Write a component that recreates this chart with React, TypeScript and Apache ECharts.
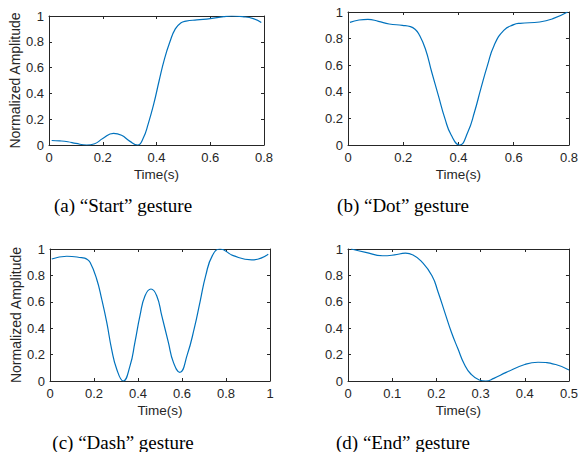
import React, { useEffect, useRef } from "react";
import * as echarts from "echarts";

const startT = [0.01, 0.04, 0.07, 0.1, 0.14, 0.17, 0.2, 0.24, 0.27, 0.3, 0.33, 0.35, 0.37, 0.39, 0.41, 0.43, 0.45, 0.47, 0.49, 0.51, 0.55, 0.6, 0.65, 0.68, 0.72, 0.76, 0.79];
const startV = [0.035, 0.032, 0.025, 0.012, 0.0, 0.01, 0.05, 0.09, 0.075, 0.03, 0.0, 0.05, 0.17, 0.32, 0.5, 0.67, 0.8, 0.9, 0.945, 0.96, 0.97, 0.98, 0.995, 1.0, 0.995, 0.98, 0.95];

const dotT = [0.007, 0.04, 0.072, 0.11, 0.149, 0.197, 0.226, 0.243, 0.256, 0.28, 0.303, 0.327, 0.351, 0.374, 0.404, 0.434, 0.458, 0.481, 0.505, 0.529, 0.564, 0.6, 0.623, 0.694, 0.742, 0.795];
const dotV = [0.922, 0.94, 0.945, 0.93, 0.91, 0.9, 0.89, 0.87, 0.837, 0.724, 0.549, 0.373, 0.198, 0.073, 0.0, 0.098, 0.248, 0.424, 0.599, 0.749, 0.862, 0.905, 0.915, 0.925, 0.95, 1.0];

const dashT = [0.008, 0.076, 0.144, 0.165, 0.182, 0.212, 0.235, 0.258, 0.28, 0.303, 0.333, 0.364, 0.386, 0.409, 0.432, 0.459, 0.485, 0.508, 0.538, 0.561, 0.59, 0.624, 0.656, 0.682, 0.708, 0.738, 0.773, 0.833, 0.917, 0.992];
const dashV = [0.924, 0.945, 0.934, 0.925, 0.899, 0.773, 0.621, 0.444, 0.242, 0.091, 0.0, 0.116, 0.293, 0.495, 0.646, 0.697, 0.646, 0.495, 0.293, 0.141, 0.066, 0.2, 0.4, 0.6, 0.8, 0.95, 1.0, 0.95, 0.917, 0.96];

const endT = [0.007, 0.04, 0.078, 0.105, 0.13, 0.147, 0.165, 0.19, 0.204, 0.219, 0.234, 0.249, 0.263, 0.278, 0.297, 0.312, 0.33, 0.358, 0.4, 0.43, 0.47, 0.5];
const endV = [1.0, 0.975, 0.949, 0.955, 0.968, 0.955, 0.91, 0.798, 0.672, 0.52, 0.369, 0.242, 0.129, 0.053, 0.008, 0.0, 0.02, 0.065, 0.125, 0.142, 0.125, 0.083];

const xMaxes = [0.8, 0.8, 1, 0.5];
const xSteps = [0.2, 0.2, 0.2, 0.1];
const captions = ["(a) \u201CStart\u201D gesture", "(b) \u201CDot\u201D gesture", "(c) \u201CDash\u201D gesture", "(d) \u201CEnd\u201D gesture"];
const yName = "Normalized Amplitude";
const xName = "Time(s)";

const AX = "#262626";

export default function App() {
  const ref = useRef<HTMLDivElement>(null);
  useEffect(() => {
    if (!ref.current) return;
    const chart = echarts.init(ref.current, undefined, { renderer: "svg" });
    const grids = [
      { left: 49, top: 16, width: 215, height: 129 },
      { left: 348, top: 12, width: 225, height: 133 },
      { left: 50, top: 249, width: 220, height: 132 },
      { left: 348, top: 249, width: 225, height: 132 },
    ];
    const sets = [
      [startT, startV],
      [dotT, dotV],
      [dashT, dashV],
      [endT, endV],
    ];
    const xAxes: any[] = [];
    const yAxes: any[] = [];
    const series: any[] = [];
    grids.forEach((g, i) => {
      const common = {
        gridIndex: i,
        type: "value",
        splitLine: { show: false },
        axisLine: { show: true, onZero: false, lineStyle: { color: AX, width: 1 } },
        axisTick: { show: true, inside: true, length: 3, lineStyle: { color: AX } },
      };
      xAxes.push({
        ...common,
        position: "bottom",
        min: 0,
        max: xMaxes[i],
        interval: xSteps[i],
        name: xName,
        nameLocation: "middle",
        nameGap: 22,
        nameTextStyle: { color: AX, fontFamily: "Liberation Sans", fontSize: 13.5 },
        axisLabel: { color: AX, fontFamily: "Liberation Sans", fontSize: 13, margin: 6 },
      });
      xAxes.push({
        ...common,
        position: "top",
        min: 0,
        max: xMaxes[i],
        interval: xSteps[i],
        axisLabel: { show: false },
      });
      yAxes.push({
        ...common,
        position: "left",
        min: 0,
        max: 1,
        interval: 0.2,
        name: i % 2 === 0 ? yName : "",
        nameLocation: "middle",
        nameGap: 25,
        nameTextStyle: { color: AX, fontFamily: "Liberation Sans", fontSize: 14 },
        axisLabel: { color: AX, fontFamily: "Liberation Sans", fontSize: 13, margin: 5 },
      });
      yAxes.push({
        ...common,
        position: "right",
        min: 0,
        max: 1,
        interval: 0.2,
        axisLabel: { show: false },
      });
      const [ts, vs] = sets[i];
      series.push({
        type: "line",
        xAxisIndex: i * 2,
        yAxisIndex: i * 2,
        data: ts.map((t, k) => [t, vs[k]]),
        showSymbol: false,
        smooth: 0.5,
        lineStyle: { color: "#0072BD", width: 1.2 },
        clip: true,
      });
    });
    const capPos = [
      [123, 205],
      [403, 205],
      [123, 442],
      [403, 442],
    ];
    chart.setOption({
      animation: false,
      backgroundColor: "#ffffff",
      grid: grids,
      xAxis: xAxes,
      yAxis: yAxes,
      series,
      graphic: captions.map((c, i) => ({
        type: "text",
        x: capPos[i][0],
        y: capPos[i][1],
        style: {
          text: c,
          fill: "#000",
          font: '19px "Liberation Serif"',
          textAlign: "center",
          textVerticalAlign: "middle",
        },
      })),
    });
    return () => chart.dispose();
  }, []);
  return (
    <div
      ref={ref}
      style={{ position: "fixed", left: 0, top: 0, width: 581, height: 452 }}
    />
  );
}
